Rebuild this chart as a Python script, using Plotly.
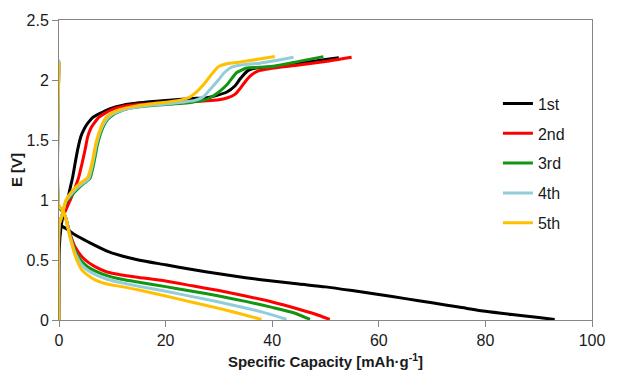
import plotly.graph_objects as go

cycles = ["1st", "2nd", "3rd", "4th", "5th"]
colors = ["#000000", "#ff0000", "#129612", "#92cddc", "#ffc000"]

# Discharge curves (capacity mAh/g, potential V)
dis_x = [
    [0, 0.3, 1.0, 1.75, 3, 5.5, 9.25, 14.9, 20, 25, 30, 35, 40, 45, 50, 55, 60, 65, 70, 75, 80, 85, 90, 93],
    [0, 0, 0.6, 1.2, 2.0, 3.0, 4.25, 5.5, 6.75, 9, 11.75, 15, 20, 25, 30, 35, 40, 45, 48, 50.8],
    [0, 0, 0.6, 1.2, 2.0, 3.0, 4.25, 5.5, 6.75, 9, 11.75, 15, 20, 25, 30, 35, 40, 44, 47.1],
    [0, 0, 0.6, 1.2, 2.0, 3.0, 4.25, 5.5, 6.75, 9, 11.75, 15, 20, 25, 30, 35, 39, 42.7],
    [0, 0, 0.6, 1.2, 2.0, 3.0, 4.25, 5.5, 6.75, 9, 11.75, 15, 20, 25, 30, 34, 38.0],
]
dis_v = [
    [0.80, 0.79, 0.77, 0.75, 0.71, 0.65, 0.57, 0.50, 0.46, 0.42, 0.385, 0.352, 0.325, 0.30, 0.276, 0.245, 0.212, 0.178, 0.143, 0.108, 0.072, 0.045, 0.02, 0.005],
    [2.15, 0.94, 0.91, 0.86, 0.73, 0.61, 0.53, 0.48, 0.445, 0.40, 0.375, 0.355, 0.325, 0.285, 0.245, 0.20, 0.15, 0.09, 0.05, 0.005],
    [2.15, 0.94, 0.91, 0.86, 0.72, 0.58, 0.49, 0.44, 0.41, 0.37, 0.34, 0.315, 0.278, 0.24, 0.20, 0.155, 0.105, 0.06, 0.005],
    [2.17, 0.95, 0.92, 0.86, 0.71, 0.56, 0.46, 0.41, 0.38, 0.34, 0.31, 0.28, 0.24, 0.195, 0.15, 0.10, 0.055, 0.005],
    [2.15, 0.95, 0.92, 0.86, 0.70, 0.54, 0.42, 0.37, 0.335, 0.30, 0.278, 0.25, 0.20, 0.148, 0.097, 0.052, 0.005],
]

# Charge curves
chg_x = [
    [0, 0.05, 0.4, 0.7, 1.1, 1.6, 2.1, 2.56, 3.0, 3.5, 4.1, 4.7, 5.4, 6.4, 7.6, 9.5, 12, 15, 20, 25, 28, 29.5, 31.5, 33, 34, 35.5, 37, 40, 45, 50, 52.5],
    [0, 0.05, 0.5, 1.1, 1.7, 2.3, 3.0, 3.7, 4.3, 4.9, 5.4, 6.0, 6.6, 7.5, 8.5, 10, 12, 15, 20, 25, 30, 31.5, 33, 34, 35, 35.8, 36.7, 37.7, 39.6, 45, 50, 54.9],
    [0, 0.05, 0.5, 1.3, 2.4, 3.7, 4.7, 5.8, 6.6, 7.2, 8.2, 9.1, 10.3, 12, 14, 17, 20, 25, 27, 28.3, 30, 31.5, 33.3, 35.2, 37, 39.6, 45, 49.6],
    [0, 0.05, 0.5, 1.3, 2.3, 3.4, 4.5, 5.6, 6.4, 7.0, 8.0, 8.9, 10, 12, 14, 17, 20, 23, 25.5, 27.1, 28.5, 29.9, 31, 32.1, 34, 37.7, 41, 44],
    [0, 0.05, 0.5, 1.3, 2.2, 3.2, 4.3, 5.4, 6.3, 6.9, 7.9, 8.7, 9.75, 11.5, 14, 17, 20, 22.5, 24.6, 25.8, 27.1, 28.5, 29.9, 31.5, 34, 37, 40.5],
]
chg_v = [
    [0.0, 0.6, 0.78, 0.86, 0.92, 1.0, 1.1, 1.19, 1.3, 1.42, 1.53, 1.59, 1.64, 1.69, 1.72, 1.76, 1.79, 1.81, 1.83, 1.845, 1.855, 1.87, 1.9, 1.95, 2.01, 2.08, 2.1, 2.11, 2.14, 2.17, 2.185],
    [0.0, 0.8, 0.86, 0.9, 0.96, 1.02, 1.1, 1.19, 1.3, 1.42, 1.53, 1.6, 1.64, 1.69, 1.72, 1.755, 1.78, 1.795, 1.81, 1.82, 1.835, 1.85, 1.88, 1.93, 1.99, 2.03, 2.06, 2.08, 2.095, 2.125, 2.155, 2.19],
    [0.0, 0.8, 0.86, 0.98, 1.04, 1.1, 1.14, 1.18, 1.32, 1.46, 1.6, 1.67, 1.715, 1.75, 1.77, 1.785, 1.795, 1.815, 1.83, 1.85, 1.9, 1.96, 2.06, 2.10, 2.105, 2.11, 2.155, 2.195],
    [0.0, 0.8, 0.86, 0.99, 1.05, 1.1, 1.14, 1.18, 1.32, 1.46, 1.6, 1.67, 1.715, 1.75, 1.77, 1.79, 1.80, 1.815, 1.83, 1.86, 1.93, 2.0, 2.06, 2.1, 2.125, 2.14, 2.165, 2.19],
    [0.0, 0.8, 0.86, 1.0, 1.06, 1.11, 1.15, 1.19, 1.33, 1.47, 1.61, 1.68, 1.72, 1.755, 1.78, 1.80, 1.815, 1.83, 1.86, 1.9, 1.96, 2.04, 2.11, 2.135, 2.15, 2.17, 2.195],
]

x_ticks = [0, 20, 40, 60, 80, 100]
y_ticks = [0, 0.5, 1, 1.5, 2, 2.5]

FONT = "Arial, Liberation Sans, sans-serif"

fig = go.Figure()
for i, name in enumerate(cycles):
    xs = list(dis_x[i]) + [None] + list(chg_x[i])
    ys = list(dis_v[i]) + [None] + list(chg_v[i])
    fig.add_trace(go.Scatter(
        x=xs, y=ys, mode="lines", name=name, legendgroup=name,
        connectgaps=False,
        line=dict(color=colors[i], width=3, shape="spline", smoothing=0.6),
    ))

axis_common = dict(
    showline=True, linecolor="#868686", linewidth=1, mirror=True,
    ticks="outside", ticklen=6, tickcolor="#868686", tickwidth=1,
    showgrid=False, zeroline=False, automargin=False,
    tickfont=dict(family=FONT, size=16, color="#1a1a1a"),
)

fig.update_xaxes(
    range=[0, 100], tickvals=x_ticks,
    title=dict(text="Specific Capacity [mAh·g<sup>-1</sup>]",
               font=dict(family=FONT, size=15, color="#1a1a1a", weight="bold"),
               standoff=8),
    **axis_common,
)
fig.update_yaxes(
    range=[0, 2.5], tickvals=y_ticks,
    ticksuffix="\u00a0\u2009",
    title=dict(text="E [V]",
               font=dict(family=FONT, size=15, color="#1a1a1a", weight="bold"),
               standoff=4),
    **axis_common,
)

# the page body adds an 8px offset, so margins compensate for it
fig.update_layout(
    width=628, height=379,
    margin=dict(l=51, r=44, t=12, b=67, autoexpand=False),
    paper_bgcolor="white", plot_bgcolor="white",
    font=dict(family=FONT, size=16, color="#1a1a1a"),
    legend=dict(
        x=0.8235, y=0.778, xanchor="left", yanchor="top",
        bgcolor="rgba(0,0,0,0)", borderwidth=0,
        font=dict(family=FONT, size=16, color="#1a1a1a"),
        tracegroupgap=6, traceorder="grouped",
    ),
    showlegend=True,
)

fig.write_html("out.html")
